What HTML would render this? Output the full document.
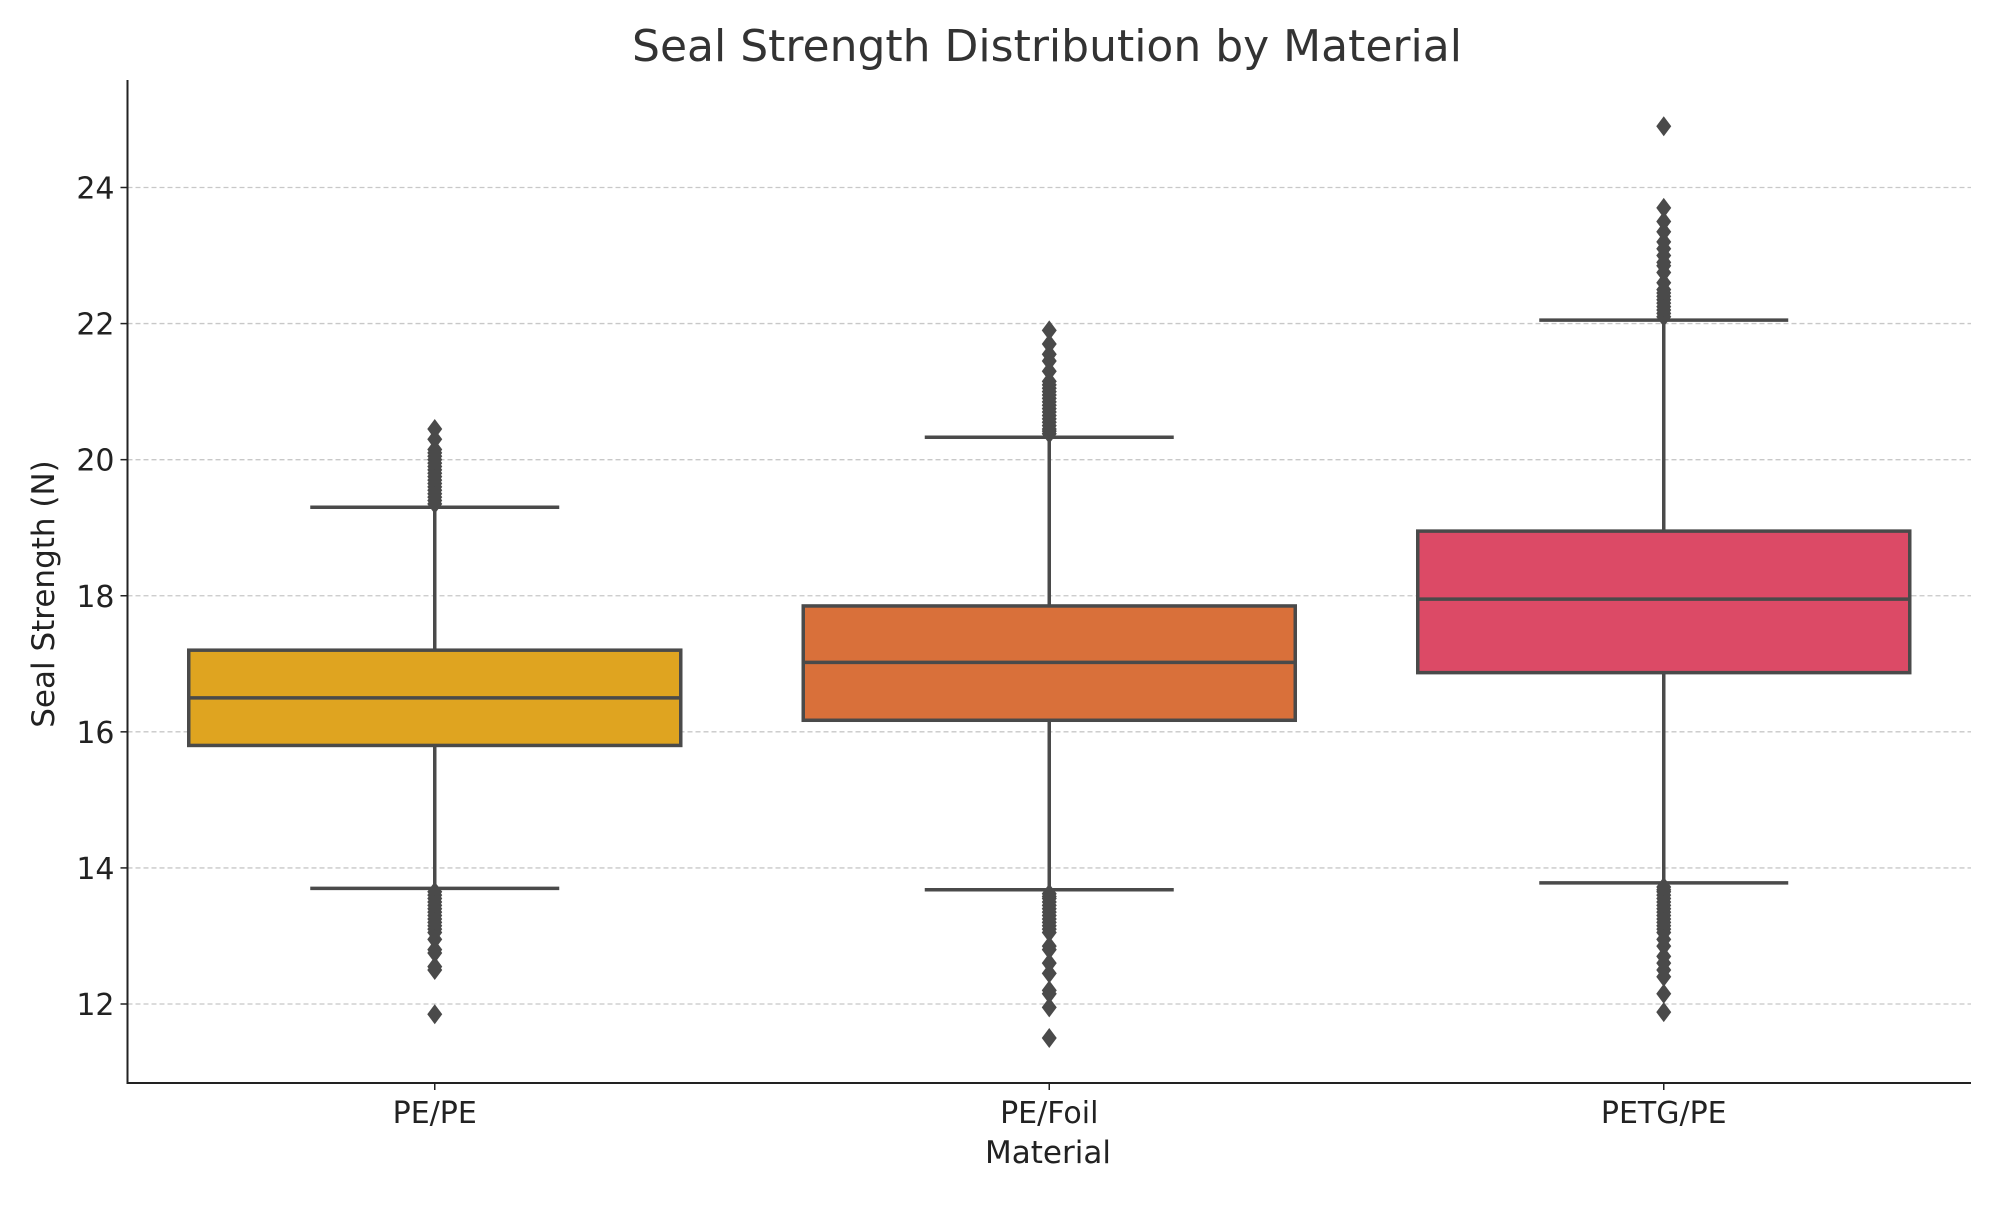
<!DOCTYPE html>
<html><head><meta charset="utf-8"><style>
html,body{margin:0;padding:0;background:#fff;}
svg text{font-family:"DejaVu Sans","Liberation Sans",sans-serif;fill:#222;}
</style></head><body>
<svg id="chart" width="2000" height="1200" viewBox="0 0 2000 1200" xmlns="http://www.w3.org/2000/svg">
<text x="1047" y="61" font-size="44" text-anchor="middle" fill="#333" style="fill:#333">Seal Strength Distribution by Material</text>
<g id="grid"></g>
<g id="boxes"></g>
<g id="axes"></g>
<text x="1048" y="1163" font-size="31" text-anchor="middle">Material</text>
<text transform="translate(54,594) rotate(-90)" font-size="31" text-anchor="middle">Seal Strength (N)</text>
</svg>
<script>
const categories = ["PE/PE", "PE/Foil", "PETG/PE"];
const q1Values = [15.8, 16.17, 16.87];
const medianValues = [16.5, 17.02, 17.95];
const q3Values = [17.2, 17.85, 18.95];
const lowerWhiskers = [13.7, 13.68, 13.78];
const upperWhiskers = [19.3, 20.33, 22.05];
const outliersPEPE = [19.35,19.4,19.45,19.5,19.55,19.6,19.65,19.7,19.75,19.8,19.85,19.9,19.95,20.0,20.05,20.1,20.15,20.3,20.45,13.65,13.6,13.55,13.5,13.45,13.4,13.35,13.3,13.25,13.2,13.15,13.1,13.05,12.95,12.8,12.75,12.55,12.5,11.85];
const outliersPEFoil = [20.38,20.42,20.45,20.5,20.55,20.6,20.65,20.7,20.75,20.8,20.85,20.9,20.95,21.0,21.05,21.1,21.15,21.3,21.45,21.55,21.7,21.9,13.62,13.58,13.55,13.5,13.45,13.4,13.35,13.3,13.25,13.2,13.15,13.1,13.05,12.85,12.8,12.6,12.45,12.2,12.15,11.95,11.5];
const outliersPETG = [22.1,22.15,22.2,22.25,22.3,22.35,22.4,22.45,22.5,22.6,22.75,22.85,22.9,23.0,23.1,23.2,23.35,23.5,23.7,24.9,13.72,13.68,13.65,13.6,13.55,13.5,13.45,13.4,13.35,13.3,13.25,13.2,13.15,13.1,13.05,12.95,12.85,12.7,12.6,12.5,12.4,12.15,11.88];
const outlierSets = [outliersPEPE, outliersPEFoil, outliersPETG];
const yTicks = [12, 14, 16, 18, 20, 22, 24];
const colors = ["#dfa420", "#d9703a", "#dc4a66"];

const NS = "http://www.w3.org/2000/svg";
const plotL = 127.5, plotR = 1971, plotT = 80, plotB = 1083;
function yScale(v){ return 1004 + (12 - v) * (1004 - 187.5) / 12; }
function xScale(i){ return plotL + (plotR - plotL) * (i + 0.5) / categories.length; }
function mk(tag, attrs, parent){ const e = document.createElementNS(NS, tag); for (const k in attrs) e.setAttribute(k, attrs[k]); parent.appendChild(e); return e; }

const grid = document.getElementById("grid");
const axes = document.getElementById("axes");
const boxes = document.getElementById("boxes");

yTicks.forEach(t => {
  const y = yScale(t);
  const g = mk("line", {x1: plotL, x2: plotR, y1: y, y2: y, stroke: "#c8c8c8", "stroke-width": 1.3, "stroke-dasharray": "5,3"}, grid);
  
  
  const tk = mk("line", {x1: plotL - 7, x2: plotL, y1: y, y2: y, stroke: "#222", "stroke-width": 1.5}, axes);
  
  
  const lb = mk("text", {x: plotL - 13, y: y + 11, "font-size": 30, "text-anchor": "end"}, axes);
  lb.textContent = t;
  
  
});

const halfBox = 246, halfCap = 124.5, ec = "#4a4a4a";
categories.forEach((c, i) => {
  const cx = xScale(i);
  const g = mk("g", {}, boxes);
  
  
  mk("line", {x1: cx, x2: cx, y1: yScale(q3Values[i]), y2: yScale(upperWhiskers[i]), stroke: ec, "stroke-width": 3.5}, g);
  mk("line", {x1: cx, x2: cx, y1: yScale(q1Values[i]), y2: yScale(lowerWhiskers[i]), stroke: ec, "stroke-width": 3.5}, g);
  mk("line", {x1: cx - halfCap, x2: cx + halfCap, y1: yScale(upperWhiskers[i]), y2: yScale(upperWhiskers[i]), stroke: ec, "stroke-width": 3.5}, g);
  mk("line", {x1: cx - halfCap, x2: cx + halfCap, y1: yScale(lowerWhiskers[i]), y2: yScale(lowerWhiskers[i]), stroke: ec, "stroke-width": 3.5}, g);
  mk("rect", {x: cx - halfBox, y: yScale(q3Values[i]), width: 2 * halfBox, height: yScale(q1Values[i]) - yScale(q3Values[i]), fill: colors[i], stroke: ec, "stroke-width": 3.5}, g);
  mk("line", {x1: cx - halfBox, x2: cx + halfBox, y1: yScale(medianValues[i]), y2: yScale(medianValues[i]), stroke: ec, "stroke-width": 3.5}, g);
  outlierSets[i].forEach(v => {
    const y = yScale(v);
    const d = mk("path", {d: `M${cx},${y-10} L${cx+7.5},${y} L${cx},${y+10} L${cx-7.5},${y} Z`, fill: ec}, g);
    
    
  });
  const tk = mk("line", {x1: cx, x2: cx, y1: plotB, y2: plotB + 7, stroke: "#222", "stroke-width": 1.5}, axes);
  
  
  const lb = mk("text", {x: cx, y: plotB + 40, "font-size": 30, "text-anchor": "middle"}, axes);
  lb.textContent = c;
  
  
});

const la = mk("line", {x1: plotL, x2: plotL, y1: plotT, y2: plotB, stroke: "#222", "stroke-width": 2}, axes);


const ba = mk("line", {x1: plotL - 1, x2: plotR, y1: plotB, y2: plotB, stroke: "#222", "stroke-width": 2}, axes);


</script>
</body></html>
